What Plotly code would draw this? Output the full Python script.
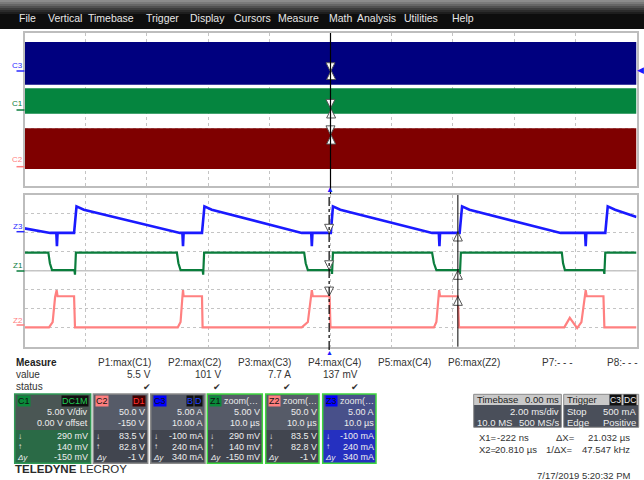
import plotly.graph_objects as go

W, H = 644, 480
FONT = "Liberation Sans, Arial, sans-serif"

# ---------------- data ----------------
menu_items = ["File", "Vertical", "Timebase", "Trigger", "Display", "Cursors",
              "Measure", "Math", "Analysis", "Utilities", "Help"]

# acquisition window (2 ms/div) - dense waveforms seen as envelopes
top_t_ms = [-10.0, 10.0]
c3_low, c3_high = -3.5, 7.7      # A
c1_low, c1_high = -1.1, 5.6      # V
c2_low, c2_high = -6.0, 101.0    # V

# zoom traces (10 us/div)
z3_t = [-50, -45.8, -44.8, -44.7, -44.6, -41.9, -41.5, -40.3, -24.6, -24.2, -24.1, -24.0,
        -21.0, -20.6, -19.4, -4.7, -3.15, -3.05, -2.95, 0.05, 0.4, 1.6, 16.6, 17.7, 17.8, 17.9,
        21.1, 21.5, 22.7, 37.6, 41.6, 41.7, 41.8, 44.9, 45.3, 46.5, 50]
z3_a = [1.2, 0.0, 0.0, -3.5, 0.0, 0.0, 7.0, 6.1, 0.0, 0.0, -3.5, 0.0,
        0.0, 7.0, 6.1, 0.0, 0.0, -3.5, 0.0, 0.0, 7.0, 6.1, 0.0, 0.0, -3.5, 0.0,
        0.0, 7.0, 6.1, 0.0, 0.0, -3.5, 0.0, 0.0, 7.0, 6.1, 4.2]

z1_t = [-50, -46.1, -45.85, -45.5, -41.85, -41.75, -41.6, -25.1, -24.85, -24.5,
        -20.9, -20.8, -20.65, -4.3, -4.05, -3.7, 0.15, 0.25, 0.4, 16.6, 16.9, 17.3,
        21.05, 21.15, 21.3, 37.8, 38.0, 38.3, 44.65, 44.75, 44.9, 50]
z1_v = [4.8, 4.8, 2.0, 0.2, 0.2, -1.0, 4.8, 4.8, 2.0, 0.2,
        0.2, -1.0, 4.8, 4.8, 2.0, 0.2, 0.2, -0.8, 4.8, 4.8, 2.0, 0.2,
        0.2, -0.8, 4.8, 4.8, 2.0, 0.2, 0.2, -0.8, 4.8, 4.8]

z2_t = [-50, -46.0, -45.4, -45.0, -44.75, -44.6, -41.9, -41.75,
        -24.95, -24.5, -24.2, -24.1, -24.0, -21.0, -20.9,
        -4.7, -3.7, -3.2, -3.05, -2.9, -0.15, 0.0,
        16.9, 17.3, 17.6, 17.75, 17.9, 20.8, 21.0,
        38.2, 39.1, 40.3, 41.0, 41.5, 41.7, 41.85, 44.6, 44.75, 50]
z2_v = [1, 1, 15, 81, 99, 83, 83, 1,
        1, 15, 81, 99, 83, 83, 1,
        1, 15, 81, 99, 83, 83, 1,
        1, 15, 81, 99, 83, 83, 1,
        1, 26, -1, 15, 81, 99, 83, 83, 1, 1]

# cursors
x1_us, x2_us = -0.222, 20.810
cur1 = {"C1": 0.29, "C2": 83.5, "C3": -0.10}   # values at X1
cur2 = {"C1": 0.14, "C2": 82.8, "C3": 0.24}    # values at X2

# measurements
meas_names = ["P1:max(C1)", "P2:max(C2)", "P3:max(C3)", "P4:max(C4)",
              "P5:max(C4)", "P6:max(Z2)", "P7:- - -", "P8:- - -"]
meas_values = ["5.5 V", "101 V", "7.7 A", "137 mV", "", "", "", ""]
meas_status = [True, True, True, True, False, False, False, False]

# channel descriptor boxes
box_names = ["C1", "C2", "C3", "Z1", "Z2", "Z3"]
box_row2 = ["5.00 V/div", "50.0 V", "5.00 A", "5.00 V", "50.0 V", "5.00 A"]
box_row3 = ["0.00 V offset", "-150 V", "10.00 A", "10.0 µs", "10.0 µs", "10.0 µs"]
box_down = ["290 mV", "83.5 V", "-100 mA", "290 mV", "83.5 V", "-100 mA"]
box_up = ["140 mV", "82.8 V", "240 mA", "140 mV", "82.8 V", "240 mA"]
box_dy = ["-150 mV", "-1 V", "340 mA", "-150 mV", "-1 V", "340 mA"]

# ---------------- helpers ----------------
def px(x):
    return x / W


def py(y):
    return 1 - y / H


shapes = []
annos = []


def rect(x0, y0, x1, y1, fill, line=None, lw=0, layer="above"):
    shapes.append(dict(type="rect", xref="paper", yref="paper",
                       x0=px(x0), x1=px(x1), y0=py(y1), y1=py(y0),
                       fillcolor=fill, line=dict(color=line or fill, width=lw), layer=layer))


def txt(x, y, s, size=10, color="#222", anchor="left", bg=None, pad=0, family=FONT):
    a = dict(x=px(x), y=py(y), xref="paper", yref="paper", text=s, showarrow=False,
             xanchor=anchor, yanchor="middle", borderpad=pad,
             font=dict(size=size, color=color, family=family))
    if bg:
        a["bgcolor"] = bg
    annos.append(a)


# ---------------- traces ----------------
fig = go.Figure()


def band(lo, hi, color, yax):
    xs = [top_t_ms[0], top_t_ms[1], top_t_ms[1], top_t_ms[0], top_t_ms[0]]
    ys = [lo, lo, hi, hi, lo]
    fig.add_trace(go.Scatter(x=xs, y=ys, fill="toself", fillcolor=color, mode="lines",
                             line=dict(width=0, color=color), xaxis="x", yaxis=yax,
                             hoverinfo="skip", showlegend=False))


band(c3_low, c3_high, "#00007f", "y")
band(c1_low, c1_high, "#05853f", "y2")
band(c2_low, c2_high, "#7f0000", "y3")

fig.add_trace(go.Scatter(x=z2_t, y=z2_v, mode="lines", line=dict(color="#ff8080", width=2.2),
                         xaxis="x2", yaxis="y6", showlegend=False))
fig.add_trace(go.Scatter(x=z1_t, y=z1_v, mode="lines", line=dict(color="#0a7d3c", width=2.2),
                         xaxis="x2", yaxis="y5", showlegend=False))
fig.add_trace(go.Scatter(x=z3_t, y=z3_a, mode="lines", line=dict(color="#1a1aff", width=2.6),
                         xaxis="x2", yaxis="y4", showlegend=False))

# cursor arrows
arrow_style = dict(size=9, color="white", line=dict(color="#555", width=1))
for ch, yax_top, yax_low in [("C3", "y", "y4"), ("C1", "y2", "y5"), ("C2", "y3", "y6")]:
    fig.add_trace(go.Scatter(x=[x1_us / 1000.0], y=[cur1[ch]], mode="markers", xaxis="x", yaxis=yax_top,
                             marker=dict(symbol="arrow-down", **arrow_style), showlegend=False))
    fig.add_trace(go.Scatter(x=[x2_us / 1000.0], y=[cur2[ch]], mode="markers", xaxis="x", yaxis=yax_top,
                             marker=dict(symbol="arrow-up", **arrow_style), showlegend=False))
    fig.add_trace(go.Scatter(x=[x1_us], y=[cur1[ch]], mode="markers", xaxis="x2", yaxis=yax_low,
                             marker=dict(symbol="arrow-down", **arrow_style), showlegend=False))
    fig.add_trace(go.Scatter(x=[x2_us], y=[cur2[ch]], mode="markers", xaxis="x2", yaxis=yax_low,
                             marker=dict(symbol="arrow-up", **arrow_style), showlegend=False))

# ---------------- axes ----------------
grid = dict(showgrid=True, gridcolor="#c4c4c4", griddash="dot", gridwidth=1,
            showticklabels=False, ticks="", zeroline=False, showline=True, mirror=True,
            linecolor="#bdbdbd", linewidth=1.5, fixedrange=True)
hidden = dict(visible=False, fixedrange=True)
XD = [px(24.5), px(636.5)]
fig.update_layout(
    xaxis=dict(domain=XD, range=[-10, 10], dtick=2, anchor="y", **grid),
    yaxis=dict(domain=[py(185.7), py(33.3)], range=[-30, 10], dtick=5, anchor="x", **grid),
    yaxis2=dict(overlaying="y", range=[-20, 20], anchor="x", **hidden),
    yaxis3=dict(overlaying="y", range=[-50, 350], anchor="x", **hidden),
    xaxis2=dict(domain=XD, range=[-50, 50], dtick=10, anchor="y4", **grid),
    yaxis4=dict(domain=[py(346.7), py(195)], range=[-30, 10], dtick=5, anchor="x2", **grid),
    yaxis5=dict(overlaying="y4", range=[-20, 20], anchor="x2", **hidden),
    yaxis6=dict(overlaying="y4", range=[-50, 350], anchor="x2", **hidden),
)

# center line of the zoom grid
shapes.append(dict(type="line", xref="x2 domain", yref="y5", x0=0, x1=1, y0=0, y1=0,
                   line=dict(color="#a8a8a8", width=1), layer="below"))
# cursor / trigger lines
shapes.append(dict(type="line", xref="x", yref="paper", x0=0, x1=0, y0=py(194), y1=py(33),
                   line=dict(color="black", width=1.2), layer="above"))
shapes.append(dict(type="line", xref="x2", yref="paper", x0=x1_us, x1=x1_us, y0=py(350), y1=py(194),
                   line=dict(color="black", width=1.2, dash="dashdot"), layer="above"))
shapes.append(dict(type="line", xref="x2", yref="y4 domain", x0=x2_us, x1=x2_us, y0=0, y1=1,
                   line=dict(color="black", width=1), layer="above"))

# ---------------- menu bar ----------------
rect(0, 0, W, 29, "#0e0e0e")
grad = ["#8c8c8c", "#7a7a7a", "#666666", "#515151", "#3d3d3d", "#2c2c2c", "#1e1e1e"]
for i, c in enumerate(grad):
    rect(0, i * 2, W, i * 2 + 2, c)
menu_x = [18, 47, 87, 145, 189, 233, 277, 328, 356, 403, 451]
for mx, m in zip(menu_x, menu_items):
    txt(mx, 18, m, size=10.5, color="#e6e6e6")

# ---------------- channel labels ----------------
labels = [("C3", 66, 71, "#2a2aff"), ("C1", 103, 110, "#0a7d3c"), ("C2", 160, 166.7, "#ff8080"),
          ("Z3", 226, 231.7, "#2a2aff"), ("Z1", 265, 271, "#0a7d3c"), ("Z2", 320, 325, "#ff8080")]
for name, ty, ly, col in labels:
    txt(24, ty, name, size=8, color=col, anchor="right")
    shapes.append(dict(type="line", xref="paper", yref="paper", x0=px(16.5), x1=px(24.5),
                       y0=py(ly), y1=py(ly), line=dict(color=col, width=1.5)))
# trigger markers
txt(330.3, 190, "▲", size=8, color="#1a1aff", anchor="center")
txt(329.5, 352, "▲", size=7, color="#1a1aff", anchor="center")
txt(640.5, 69.5, "◀", size=9, color="#1a1aff", anchor="center")

# ---------------- measure table ----------------
txt(15, 362.7, "<b>Measure</b>", size=10, color="#222")
txt(15, 374.3, "value", size=10, color="#333")
txt(15, 386.7, "status", size=10, color="#333")
meas_right = [152, 222, 292, 362, 432, 501, 574, 639]
for i, (nm, v, st) in enumerate(zip(meas_names, meas_values, meas_status)):
    txt(meas_right[i], 362.7, nm, size=10, color="#333", anchor="right")
    if v:
        txt(meas_right[i] - (0 if i < 3 else 3), 374.3, v, size=10, color="#333", anchor="right")
    if st:
        txt(meas_right[i] - (5 if i < 3 else 7), 386.5, "✔", size=9, color="#333", anchor="center")

# ---------------- channel descriptor boxes ----------------
box_x = [(14.7, 90.7), (93.3, 147.7), (150.7, 205), (207.3, 262.3), (265.7, 319), (322.7, 376)]
box_border = ["#2f9a55", "#8a8a8a", "#8a8a8a", "#3fd63f", "#3fd63f", "#3fd63f"]
box_up_fill = ["#4a5654", "#565b68", "#565b68", "#565b68", "#565b68", "#48508a"]
box_lo_fill = ["#2a6a46", "#41454f", "#41454f", "#41454f", "#41454f", "#2530c0"]
tag_bg = ["#0a8a3a", "#ff7f7f", "#0000ff", "#0a8a3a", "#ff7f7f", "#0000ff"]
BS = 9
for i, nm in enumerate(box_names):
    x0, x1 = box_x[i]
    rect(x0, 394, x1, 430, box_up_fill[i])
    rect(x0, 430, x1, 463.3, box_lo_fill[i])
    rect(x0, 394, x1, 463.3, "rgba(0,0,0,0)", line=box_border[i], lw=1.5)
    txt(x0 + 2, 400.5, nm, size=BS, color="#111", bg=tag_bg[i], pad=0)
    if nm.startswith("Z"):
        txt(x0 + 16, 400.5, "zoom(…", size=BS, color="#e8e8e8")
    elif nm == "C1":
        txt(x1 - 2, 400.5, "DC1M", size=BS, color="#22cc55", anchor="right", bg="#101010")
    elif nm == "C2":
        txt(x1 - 2, 400.5, "D1", size=BS, color="#ff3030", anchor="right", bg="#400000")
    else:
        txt(x1 - 2, 400.5, "D", size=BS, color="#2040ff", anchor="right", bg="#101010")
        txt(x1 - 11, 400.5, "B", size=BS, color="#2040ff", anchor="right", bg="#101010")
    txt(x1 - 1.5, 412.3, box_row2[i], size=BS, color="#eeeeee", anchor="right")
    txt(x1 - 1.5, 422.7, box_row3[i], size=BS, color="#eeeeee", anchor="right")
    txt(x1 - 1.5, 436, box_down[i], size=BS, color="#eeeeee", anchor="right")
    txt(x1 - 1.5, 446.7, box_up[i], size=BS, color="#eeeeee", anchor="right")
    txt(x1 - 1.5, 457.3, box_dy[i], size=BS, color="#eeeeee", anchor="right")
    txt(x0 + 2, 436, "↓", size=8, color="#eeeeee")
    txt(x0 + 2, 446.7, "↑", size=8, color="#eeeeee")
    txt(x0 + 1.5, 457.3, "<i>Δy</i>", size=8, color="#eeeeee")

# ---------------- timebase / trigger ----------------
for (x0, x1) in [(473.7, 561.3), (563.7, 638.7)]:
    rect(x0, 394.3, x1, 405, "#c9c9c9")
    rect(x0, 405, x1, 427.3, "#4a4f5a")
    rect(x0, 394.3, x1, 427.3, "rgba(0,0,0,0)", line="#8a8a8a", lw=1)
TS = 9.5
txt(475.5, 399.8, "Timebase", size=TS, color="#222")
txt(560, 399.8, "0.00 ms", size=TS, color="#222", anchor="right")
txt(560, 411.7, "2.00 ms/div", size=TS, color="#eeeeee", anchor="right")
txt(475.5, 422.3, "10.0 MS", size=TS, color="#eeeeee")
txt(560, 422.3, "500 MS/s", size=TS, color="#eeeeee", anchor="right")
txt(565.5, 399.8, "Trigger", size=TS, color="#222")
txt(637, 399.8, "DC", size=8.5, color="#eeeeee", anchor="right", bg="#111111")
txt(622, 399.8, "C3", size=8.5, color="#eeeeee", anchor="right", bg="#111111")
txt(565.5, 411.7, "Stop", size=TS, color="#eeeeee")
txt(637, 411.7, "500 mA", size=TS, color="#eeeeee", anchor="right")
txt(565.5, 422.3, "Edge", size=TS, color="#eeeeee")
txt(637, 422.3, "Positive", size=TS, color="#eeeeee", anchor="right")

# cursor readouts
CS = 9.5
txt(477.5, 437.3, "X1=", size=CS, color="#333")
txt(530, 437.3, f"{x1_us * 1000:.0f} ns", size=CS, color="#333", anchor="right")
txt(555.3, 437.3, "ΔX=", size=CS, color="#333")
txt(630.5, 437.3, f"{x2_us - x1_us:.3f} µs", size=CS, color="#333", anchor="right")
txt(477.5, 449, "X2=", size=CS, color="#333")
txt(538, 449, f"{x2_us:.3f} µs", size=CS, color="#333", anchor="right")
txt(545, 449, "1/ΔX=", size=CS, color="#333")
txt(630.5, 449, f"{1000.0 / (x2_us - x1_us):.3f} kHz", size=CS, color="#333", anchor="right")

txt(632, 475.7, "7/17/2019 5:20:32 PM", size=9.5, color="#333", anchor="right")
txt(14, 469.3, "<b>TELEDYNE</b> LECROY", size=11.5, color="#2a2a2a",
    family="Liberation Sans Narrow, Arial Narrow, Liberation Sans, sans-serif")

fig.update_layout(width=W, height=H, margin=dict(l=0, r=0, t=0, b=0),
                  paper_bgcolor="white", plot_bgcolor="white", showlegend=False,
                  shapes=shapes, annotations=annos, hovermode=False)

fig.write_html("out.html", config={"displayModeBar": False},
               post_script="document.body.style.margin='0';document.body.style.overflow='hidden';")
